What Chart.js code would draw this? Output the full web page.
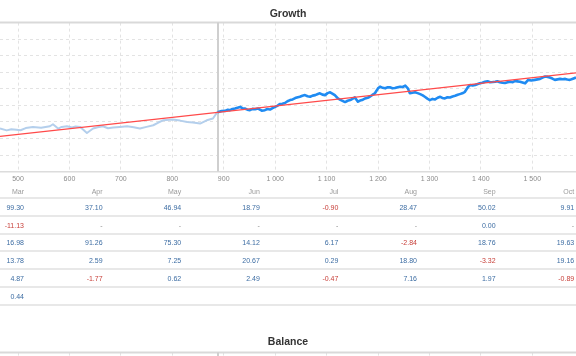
<!DOCTYPE html>
<html>
<head>
<meta charset="utf-8">
<script src="https://cdn.jsdelivr.net/npm/chart.js@4/dist/chart.umd.min.js"></script>
<style>
  html, body { margin:0; padding:0; background:#fff; width:576px; height:356px; overflow:hidden; }
  #growth { position:absolute; left:0; top:0; }
  #balance { position:absolute; left:0; top:331px; }
  .row { position:absolute; left:0; width:576px; box-sizing:border-box; border-bottom:2px solid #e8e8e8; }
  .cell { position:absolute; font-family:"Liberation Sans", Arial, sans-serif; font-size:7px; text-align:right; width:70px; white-space:nowrap; }
</style>
</head>
<body>
<canvas id="growth" width="576" height="186"></canvas>
<div id="table"></div>
<canvas id="balance" width="576" height="120"></canvas>
<script>
// ---- data ----
const histX = [465,478,487,497,505,515,529,545,562,568,578,585,595,605,612,621,634,646,655,665,675,685,698,712,725,737,750,763,772,782,801,815,829,840,854,867,879,888];
const histY = [26.0,24.9,25.6,25.3,25.0,26.3,26.9,26.5,27.4,28.6,26.0,27.0,27.4,26.6,27.2,26.9,23.3,26.0,26.8,27.4,26.2,26.6,27.0,27.4,26.8,26.0,27.0,28.0,29.5,31.0,31.4,30.8,30.0,29.6,29.0,31.0,32.1,36.1];
const growthX = [888,896,903,908,912,917,922,927,932,936,941,946,951,956,961,967,974,980,985,990,995,1000,1005,1009,1014,1019,1024,1029,1034,1039,1044,1048,1053,1058,1063,1068,1073,1078,1083,1087,1092,1097,1102,1107,1112,1116,1122,1126,1130,1136,1141,1146,1151,1155,1161,1165,1169,1175,1180,1184,1189,1194,1200,1204,1209,1214,1219,1223,1228,1233,1238,1243,1248,1253,1258,1262,1267,1272,1277,1282,1287,1291,1296,1301,1306,1311,1316,1321,1325,1330,1335,1340,1345,1350,1355,1359,1364,1369,1375,1379,1384,1389,1394,1398,1403,1408,1413,1418,1423,1428,1432,1437,1442,1447,1452,1457,1462,1466,1471,1476,1481,1486,1492,1498,1505,1510,1515,1520,1525,1530,1534,1539,1544,1549,1554,1559,1564,1568,1573,1579,1585];
const growthY = [35.9,36.6,36.7,37.4,37.1,37.8,38.1,38.6,39.1,38.3,38.1,37.4,37.1,37.9,37.7,38.1,36.8,37.1,37.8,37.5,38.4,39.1,39.9,40.8,41.0,41.4,42.5,43.2,43.6,44.4,44.9,45.2,45.8,46.2,45.5,45.2,45.9,46.2,46.9,47.3,46.5,46.2,47.4,47.9,47.0,46.2,44.2,43.5,42.9,42.0,42.8,43.2,44.1,44.8,42.2,42.9,43.2,44.2,44.6,45.2,46.3,47.3,50.3,51.3,50.6,50.3,50.9,50.9,50.3,50.5,51.0,51.3,51.1,51.9,50.3,47.3,47.6,47.9,47.4,46.8,46.0,45.2,44.1,43.2,43.9,43.6,44.6,45.2,44.5,44.2,44.9,44.8,45.4,45.8,46.4,46.8,47.3,48.2,51.1,52.3,52.0,52.3,52.9,53.3,53.7,54.3,54.6,54.0,54.1,54.3,54.6,54.0,53.7,53.5,53.9,54.3,54.0,54.7,54.5,54.3,53.8,53.3,55.4,55.0,55.4,55.7,56.0,56.8,57.4,57.2,56.8,56.2,55.4,55.7,56.0,55.8,56.0,55.6,55.4,56.1,56.8];
const trendX = [465,1585];
const trendY = [21.3,59.6];

const months = ["Mar","Apr","May","Jun","Jul","Aug","Sep","Oct"];
const tableRows = [
  ["99.30","37.10","46.94","18.79","-0.90","28.47","50.02","9.91"],
  ["-11.13","-","-","-","-","-","0.00","-"],
  ["16.98","91.26","75.30","14.12","6.17","-2.84","18.76","19.63"],
  ["13.78","2.59","7.25","20.67","0.29","18.80","-3.32","19.16"],
  ["4.87","-1.77","0.62","2.49","-0.47","7.16","1.97","-0.89"],
  ["0.44","","","","","","",""]
];

// ---- table ----
const tbl = document.getElementById('table');
const colRight = i => 24 + i * 78.6;
const rowBottoms = [197.7, 215.7, 233.7, 251.5, 269.3, 287.1, 305];
function addRow(cells, idx, isHeader) {
  const bottom = rowBottoms[idx];
  const top = idx === 0 ? 181 : rowBottoms[idx - 1];
  const row = document.createElement('div');
  row.className = 'row';
  row.style.top = top + 'px';
  row.style.height = (bottom - top + 1) + 'px';
  tbl.appendChild(row);
  cells.forEach((t, i) => {
    if (t === '') return;
    const c = document.createElement('div');
    c.className = 'cell';
    c.textContent = t;
    const center = isHeader ? 191 : bottom - 8.7;
    c.style.top = (center - 4.5) + 'px';
    c.style.lineHeight = '9px';
    c.style.left = (colRight(i) - 70) + 'px';
    let col = '#3d6da3';
    if (isHeader) col = '#9a9a9a';
    else if (t === '-') col = '#8a8a8a';
    else if (t.startsWith('-')) col = '#c8413b';
    c.style.color = col;
    tbl.appendChild(c);
  });
}
addRow(months, 0, true);
tableRows.forEach((r, i) => addRow(r, i + 1, false));

// ---- charts ----
const fmt = v => String(v).replace(/\B(?=(\d{3})+(?!\d))/g, ' ');
const frame = {
  id: 'frame',
  beforeDatasetsDraw(chart, args, opts) {
    const {ctx, chartArea: a, scales} = chart;
    ctx.save();
    ctx.strokeStyle = '#d9d9d9';
    ctx.lineWidth = 2;
    ctx.beginPath();
    ctx.moveTo(a.left, a.top);
    ctx.lineTo(a.right, a.top);
    ctx.stroke();
    if (opts.sepX !== undefined) {
      const x = Math.round(scales.x.getPixelForValue(opts.sepX));
      ctx.strokeStyle = '#cfcfcf';
      ctx.beginPath();
      ctx.moveTo(x, a.top);
      ctx.lineTo(x, a.bottom);
      ctx.stroke();
    }
    ctx.restore();
  }
};

function scaleOpts(showTicks) {
  return {
    x: {
      type: 'linear', min: 465, max: 1585,
      ticks: { stepSize: 100, includeBounds: false, display: showTicks, maxRotation: 0, autoSkip: false,
               padding: 3, color: '#8c8c8c', font: { family: 'Liberation Sans, Arial', size: 7 },
               callback: v => fmt(v) },
      grid: { color: '#e3e3e3', drawTicks: false, lineWidth: 1 },
      border: { display: true, color: '#dcdcdc', width: 1.5, dash: [3, 3] }
    },
    y: {
      min: 0, max: 90,
      ticks: { display: false, stepSize: 10 },
      grid: { color: '#e3e3e3', drawTicks: false },
      border: { display: false, dash: [3, 3] }
    }
  };
}

const titleFont = { family: 'Liberation Sans, Arial', size: 10.5, weight: 'bold' };

new Chart(document.getElementById('growth'), {
  type: 'line',
  data: {
    datasets: [
      { data: trendX.map((x, i) => ({x, y: trendY[i]})), borderColor: '#ff4a4a', borderWidth: 1.3 },
      { data: growthX.map((x, i) => ({x, y: growthY[i]})), borderColor: '#1f8bf2', borderWidth: 2.6 },
      { data: histX.map((x, i) => ({x, y: histY[i]})), borderColor: '#b4cfec', borderWidth: 2 }
    ]
  },
  options: {
    responsive: false, animation: false, devicePixelRatio: 1,
    layout: { padding: 0 },
    elements: { point: { radius: 0 }, line: { tension: 0, borderJoinStyle: 'round' } },
    plugins: {
      legend: { display: false }, tooltip: { enabled: false },
      title: { display: true, text: 'Growth', color: '#333', font: titleFont, padding: { top: 7.5, bottom: 2.5 } },
      frame: { sepX: growthX[0] }
    },
    scales: scaleOpts(true)
  },
  plugins: [frame]
});

new Chart(document.getElementById('balance'), {
  type: 'line',
  data: { datasets: [] },
  options: {
    responsive: false, animation: false, devicePixelRatio: 1,
    layout: { padding: 0 },
    plugins: {
      legend: { display: false }, tooltip: { enabled: false },
      title: { display: true, text: 'Balance', color: '#333', font: titleFont, padding: { top: 4.5, bottom: 4.5 } },
      frame: { sepX: growthX[0] }
    },
    scales: scaleOpts(true)
  },
  plugins: [frame]
});
</script>
</body>
</html>
